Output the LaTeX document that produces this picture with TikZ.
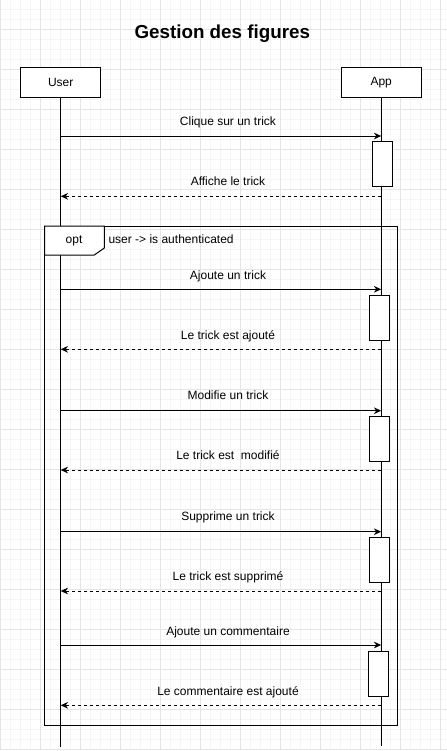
\documentclass[tikz,border=0pt]{standalone}
\usepackage{fontspec}
\setmainfont{Liberation Sans}
\usetikzlibrary{arrows.meta}

\begin{document}
\begin{tikzpicture}[x=0.75pt,y=-0.75pt,>={Stealth[length=5.5pt,width=5pt]},
	gridminor/.style={draw=black!4,line width=0.6pt},
	gridmajor/.style={draw=black!10,line width=0.75pt},
	actor/.style={draw,line width=0.75pt,fill=white,minimum width=60pt,minimum height=22.5pt,inner sep=0pt,font=\fontsize{9}{11}\selectfont},
	actbox/.style={draw,line width=0.75pt,fill=white,minimum width=15.3pt,minimum height=33.75pt,inner sep=0pt},
	lbl/.style={inner sep=0pt,anchor=base,font=\fontsize{9}{11}\selectfont},
	msg/.style={->,line width=0.75pt},
	ret/.style={->,line width=0.75pt,dash pattern=on 2.25pt off 2.25pt},
	life/.style={line width=0.75pt}]

	\useasboundingbox (0,0) rectangle (447,751);
	\fill[white] (0,0) rectangle (447,751);

	% grid
	\foreach \gx in {0,...,44}
		\draw[gridminor] ({0.7+10*\gx},0) -- ({0.7+10*\gx},749.3);
	\foreach \gy in {0,...,74}
		\draw[gridminor] (0,{9.3+10*\gy}) -- (447,{9.3+10*\gy});
	\foreach \gx in {0,...,11}
		\draw[gridmajor] ({0.7+40*\gx},0) -- ({0.7+40*\gx},749.3);
	\foreach \gy in {0,...,18}
		\draw[gridmajor] (0,{29.3+40*\gy}) -- (447,{29.3+40*\gy});

	\node[inner sep=0pt,anchor=base,font=\fontsize{14.1}{17}\selectfont\bfseries] (title) at (222.3,38.5) {Gestion des figures};

	\node[actor] (user) at (60.7,82.5) {User};
	\node[actor] (app) at (381.2,82.5) {App};
	\coordinate (userend) at (60.7,746.7);
	\coordinate (append) at (381.2,745.7);

	% lifelines
	\draw[life] (user) -- (userend);
	\draw[life] (app) -- (append);

	% opt frame
	\draw[line width=0.75pt] (44.7,226) rectangle (397.3,725.3);
	\draw[line width=0.75pt,fill=white] (44.7,226) -- (104.3,226) -- (104.3,248) -- (94.3,255) -- (44.7,255) -- cycle;
	\node[lbl] (opt) at (74,243.5) {opt};
	\node[lbl,anchor=base west] (cond) at (108.3,243.5) {user -> is authenticated};

	% activations
	\node[actbox] (act1) at (382.5,163.8) {};
	\node[actbox] (act2) at (379.5,317.7) {};
	\node[actbox] (act3) at (379.5,438.8) {};
	\node[actbox] (act4) at (379.5,560) {};
	\node[actbox] (act5) at (378.5,673.8) {};

	% messages
	\coordinate (m1) at (0,136);
	\coordinate (r1) at (0,196.3);
	\coordinate (m2) at (0,289.3);
	\coordinate (r2) at (0,349.3);
	\coordinate (m3) at (0,410.7);
	\coordinate (r3) at (0,470);
	\coordinate (m4) at (0,531.7);
	\coordinate (r4) at (0,591);
	\coordinate (m5) at (0,645);
	\coordinate (r5) at (0,705.3);

	\draw[msg] (user |- m1) -- (app |- m1);
	\draw[ret] (app |- r1) -- (user |- r1);
	\draw[msg] (user |- m2) -- (app |- m2);
	\draw[ret] (app |- r2) -- (user |- r2);
	\draw[msg] (user |- m3) -- (app |- m3);
	\draw[ret] (app |- r3) -- (user |- r3);
	\draw[msg] (user |- m4) -- (app |- m4);
	\draw[ret] (app |- r4) -- (user |- r4);
	\draw[msg] (user |- m5) -- (app |- m5);
	\draw[ret] (app |- r5) -- (user |- r5);

	\node[lbl] (lm1) at (228,125) {Clique sur un trick};
	\node[lbl] (lr1) at (228,185.3) {Affiche le trick};
	\node[lbl] (lm2) at (228,279.5) {Ajoute un trick};
	\node[lbl] (lr2) at (228,339.5) {Le trick est ajouté};
	\node[lbl] (lm3) at (228,399.7) {Modifie un trick};
	\node[lbl] (lr3) at (228,459) {Le trick est\ \ modifié};
	\node[lbl] (lm4) at (228,520.7) {Supprime un trick};
	\node[lbl] (lr4) at (228,580) {Le trick est supprimé};
	\node[lbl] (lm5) at (228,635) {Ajoute un commentaire};
	\node[lbl] (lr5) at (228,695.5) {Le commentaire est ajouté};

\end{tikzpicture}
\end{document}
